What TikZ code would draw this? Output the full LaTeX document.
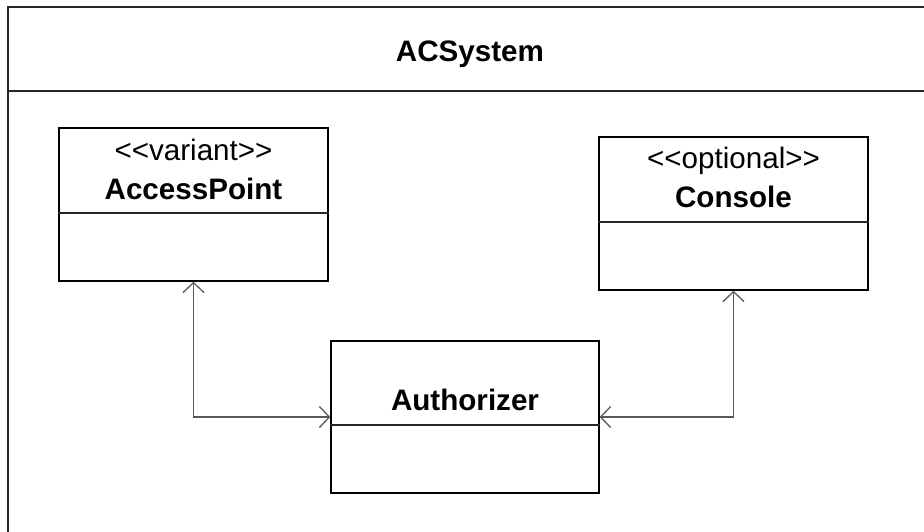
\documentclass[tikz,border=0pt]{standalone}
\usepackage{fontspec}
\setmainfont{Liberation Sans}[Ligatures=TeXOff]
\usetikzlibrary{arrows.meta}
\begin{document}
\begin{tikzpicture}[x=1pt,y=-1pt,
  classbox/.style={draw=black, line width=1.4pt, minimum width=#1, inner sep=0pt, fill=white},
  frameline/.style={draw=black!85, line width=2pt},
  sepline/.style={draw=black!85, line width=1.4pt},
  conn/.style={draw=black!65, line width=1.3pt, {Straight Barb[length=10pt,width=21pt]}-{Straight Barb[length=10pt,width=21pt]}},
  lbl/.style={anchor=base, inner sep=0pt, font=\fontsize{29.6}{35}\selectfont},
  blbl/.style={lbl, font=\fontsize{29.6}{35}\selectfont\bfseries}]
\useasboundingbox (0,0) rectangle (924,531);
\clip (0,0) rectangle (924,531);
% outer frame
\node[frameline, minimum width=928pt, minimum height=570pt, inner sep=0pt, anchor=north west] (sys) at (7,6) {};
\draw[sepline] (sys.west |- 0,91) -- (sys.east |- 0,91);
\node[blbl] (systitle) at (470,61) {ACSystem};
% AccessPoint
\node[classbox=269pt, minimum height=153pt] (ap) at (193.5,204.5) {};
\draw[sepline] (ap.west |- 0,213) -- (ap.east |- 0,213);
\node[lbl] (apst) at (193.5,160) {<<variant>>};
\node[blbl] (apname) at (193.5,199) {AccessPoint};
% Console
\node[classbox=269pt, minimum height=153pt] (con) at (733.5,213.5) {};
\draw[sepline] (con.west |- 0,222) -- (con.east |- 0,222);
\node[lbl] (const) at (733.5,168) {<<optional>>};
\node[blbl] (conname) at (733.5,207) {Console};
% Authorizer
\node[classbox=268pt, minimum height=152pt] (auth) at (465,417) {};
\draw[sepline] (auth.west |- 0,425) -- (auth.east |- 0,425);
\node[blbl] (authname) at (465,410) {Authorizer};
% connectors
\draw[conn] (ap.south) |- (auth.west);
\draw[conn] (con.south) |- (auth.east);
\end{tikzpicture}
\end{document}
